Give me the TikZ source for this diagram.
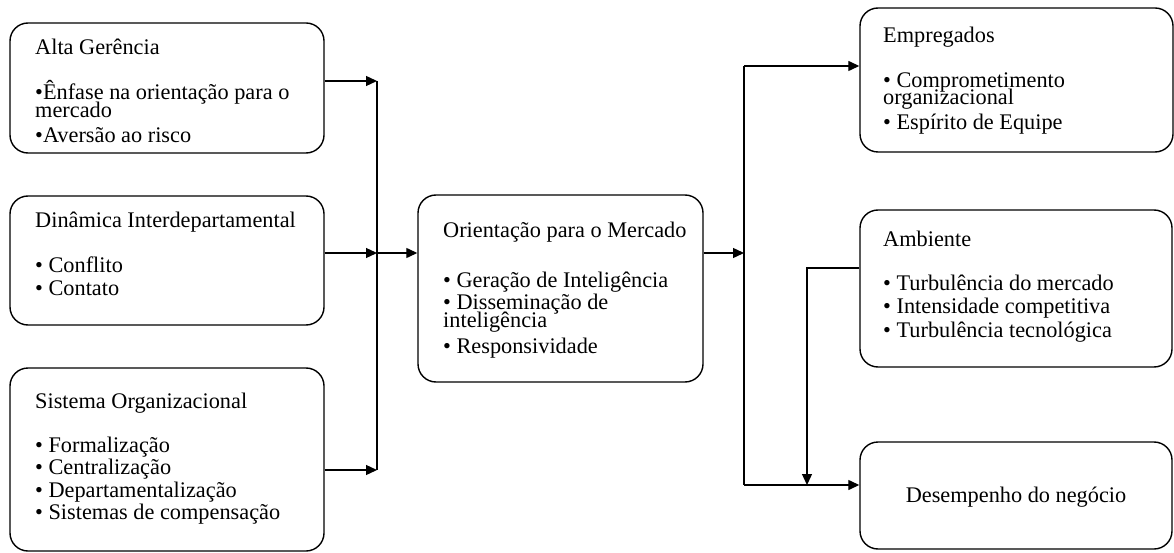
\documentclass[tikz,border=0pt]{standalone}
\usepackage{fontspec}
\setmainfont{Liberation Serif}
\usetikzlibrary{arrows.meta}
\begin{document}
\begin{tikzpicture}[x=1pt,y=-1pt,
  box/.style={draw=black, line width=1.4pt, rounded corners=18pt, inner sep=0pt},
  txt/.style={anchor=base west, inner sep=0pt, font=\fontsize{22.3}{18}\selectfont},
  ctxt/.style={anchor=base, inner sep=0pt, font=\fontsize{22.3}{18}\selectfont},
  conn/.style={draw=black, line width=1.3pt},
  arr/.style={conn, -{Triangle[length=11pt,width=10pt]}}]
\useasboundingbox (0,0) rectangle (1174,553);
% boxes
\node[box, minimum width=314pt, minimum height=130pt] (a) at (167,88) {};
\node[box, minimum width=314pt, minimum height=129pt] (d) at (167,260.5) {};
\node[box, minimum width=314pt, minimum height=183pt] (s) at (167,459.5) {};
\node[box, minimum width=285pt, minimum height=187pt] (o) at (560.5,288.5) {};
\node[box, minimum width=313pt, minimum height=144pt] (e) at (1016.5,80) {};
\node[box, minimum width=312pt, minimum height=157pt] (amb) at (1016,288.5) {};
\node[box, minimum width=312pt, minimum height=107pt] (des) at (1016,495.5) {};
% texts
\node[txt] (a0) at (35,55) {Alta Gerência};
\node[txt] (a1) at (35,100) {•Ênfase na orientação para o};
\node[txt] (a2) at (35,118) {mercado};
\node[txt] (a3) at (35,143) {•Aversão ao risco};
\node[txt] (d0) at (35,228) {Dinâmica Interdepartamental};
\node[txt] (d1) at (35,272) {• Conflito};
\node[txt] (d2) at (35,295) {• Contato};
\node[txt] (s0) at (35,408) {Sistema Organizacional};
\node[txt] (s1) at (35,452) {• Formalização};
\node[txt] (s2) at (35,474) {• Centralização};
\node[txt] (s3) at (35,497) {• Departamentalização};
\node[txt] (s4) at (35,519) {• Sistemas de compensação};
\node[txt] (o0) at (443,237) {Orientação para o Mercado};
\node[txt] (o1) at (443,287) {• Geração de Inteligência};
\node[txt] (o2) at (443,309) {• Disseminação de};
\node[txt] (o3) at (443,327) {inteligência};
\node[txt] (o4) at (443,353) {• Responsividade};
\node[txt] (e0) at (883,43) {Empregados};
\node[txt] (e1) at (883,88) {• Comprometimento};
\node[txt] (e2) at (883,105) {organizacional};
\node[txt] (e3) at (883,130) {• Espírito de Equipe};
\node[txt] (m0) at (883,247) {Ambiente};
\node[txt] (m1) at (883,290) {• Turbulência do mercado};
\node[txt] (m2) at (883,313) {• Intensidade competitiva};
\node[txt] (m3) at (883,337) {• Turbulência tecnológica};
\node[ctxt] (des0) at (1016,502) {Desempenho do negócio};
% left connectors
\coordinate (b1) at (377,81);
\coordinate (b2) at (377,253);
\coordinate (b3) at (377,470);
\draw[arr] (a.east |- b1) -- (b1);
\draw[arr] (d.east |- b2) -- (b2);
\draw[arr] (s.east |- b3) -- (b3);
\draw[conn] (b1) -- (b3);
\draw[arr] (b2) -- (o.west |- b2);
% right connectors
\coordinate (c0) at (744,66);
\coordinate (c1) at (744,253);
\coordinate (c2) at (744,485);
\draw[arr] (o.east |- c1) -- (c1);
\draw[conn] (c0) -- (c2);
\draw[arr] (c0) -- (e.west |- c0);
\draw[arr] (c2) -- (des.west |- c2);
\coordinate (f1) at (807,268);
\draw[arr] (amb.west |- f1) -- (f1) -- (f1 |- c2);
\end{tikzpicture}
\end{document}
